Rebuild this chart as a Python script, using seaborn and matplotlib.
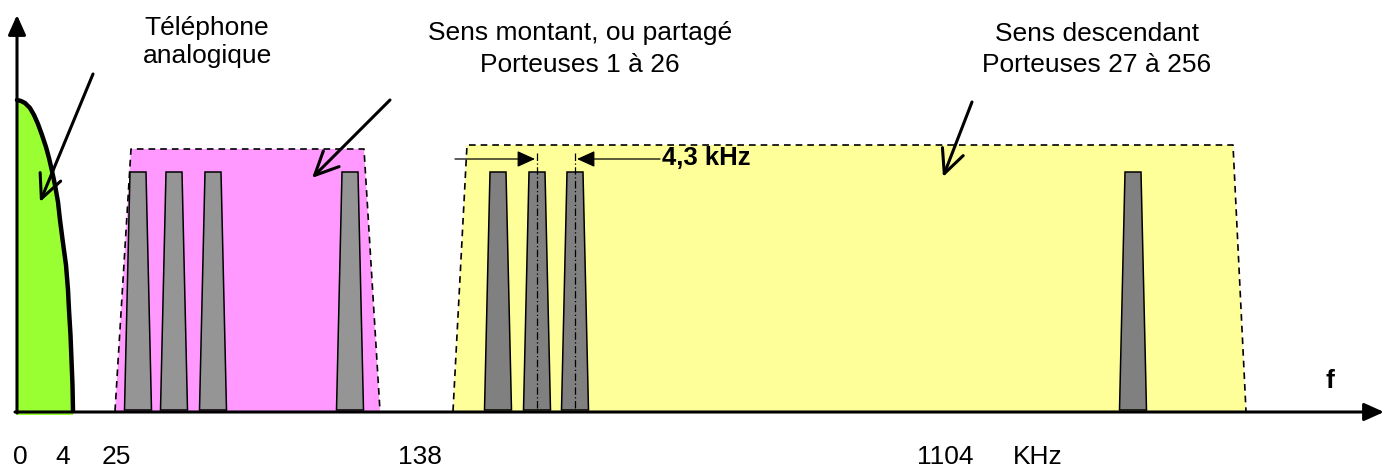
import numpy as np
import pandas as pd
import matplotlib
matplotlib.use("Agg")
import matplotlib.pyplot as plt
import seaborn as sns
from matplotlib.patches import Polygon

# drawing units are pixels of the 1384x470 picture, y grows downwards
freq_labels = ["0", "4", "25", "138", "1104", "KHz"]
freq_label_x = [20, 63, 116, 420, 945, 1038]

# analog phone spectrum
phone_x = [17, 21, 25, 30, 34, 38, 42, 46, 49, 52, 55, 58, 60, 63, 66, 68, 69, 70.5, 71.5, 72.5, 73]
phone_y = [100, 101, 103, 108, 115, 124, 135, 147, 158, 171, 185, 202, 220, 243, 265, 290, 310, 335, 360, 385, 411]

# upstream / downstream bands (dashed envelopes)
up_band_x = [115, 131, 364, 380]
up_band_y = [411, 149, 149, 411]
down_band_x = [453, 467, 1233, 1246]
down_band_y = [411, 145, 145, 411]

# carriers
up_carriers = [138, 174, 213, 350]
down_carriers = [498, 537, 575, 1133]
carrier_top = 172
carrier_bottom = 410
half_top = 8
half_bottom = 13.5

sns.set_theme(style="white")
plt.rcParams["font.family"] = ["Liberation Sans", "DejaVu Sans"]
plt.rcParams["text.color"] = "black"

fig = plt.figure(figsize=(13.84, 4.70), dpi=100)
ax = fig.add_axes([0, 0, 1, 1])
ax.set_xlim(0, 1384)
ax.set_ylim(470, 0)
ax.axis("off")

# band fills
ax.add_patch(Polygon(list(zip(up_band_x, up_band_y)), closed=True,
                     facecolor="#FF99FF", edgecolor="none", zorder=1))
ax.add_patch(Polygon(list(zip(down_band_x, down_band_y)), closed=True,
                     facecolor="#FFFF99", edgecolor="none", zorder=1))
for bx, by in [(up_band_x, up_band_y), (down_band_x, down_band_y)]:
    sns.lineplot(x=bx, y=by, sort=False, color="black", lw=1.2,
                 linestyle=(0, (4, 3)), ax=ax, zorder=2)

# phone band
ax.fill_betweenx(phone_y, 17, phone_x, color="#99FF33", lw=0, zorder=1)
ax.fill_between([17, 73], [411, 411], [415, 415], color="#99FF33", lw=0, zorder=1)
sns.lineplot(x=phone_x, y=phone_y, sort=False, color="black", lw=3.2, ax=ax, zorder=4)

# carriers
for group, col in [(up_carriers, "#959595"), (down_carriers, "#808080")]:
    for c in group:
        pts = [(c - half_bottom, carrier_bottom), (c - half_top, carrier_top),
               (c + half_top, carrier_top), (c + half_bottom, carrier_bottom)]
        ax.add_patch(Polygon(pts, closed=True, facecolor=col,
                             edgecolor="black", lw=1.1, zorder=3))

# carrier spacing marks
for c in down_carriers[1:3]:
    ax.plot([c, c], [153, 410], color="black", lw=0.9,
            linestyle=(0, (6, 2, 1, 2)), zorder=4)
spacing = dict(arrowstyle="-|>,head_length=0.55,head_width=0.25",
               color="black", lw=0.9, mutation_scale=20, shrinkA=0, shrinkB=0)
ax.annotate("", xy=(down_carriers[1] - 2, 159), xytext=(455, 159), arrowprops=spacing)
ax.annotate("", xy=(down_carriers[2] + 2, 159), xytext=(660, 159), arrowprops=spacing)
ax.text(662, 165, "4,3 kHz", fontsize=18.5, fontweight="bold", va="baseline", ha="left")

# axes with arrowheads
axis_arrow = dict(arrowstyle="-|>,head_length=0.6,head_width=0.27",
                  color="black", lw=2.2, mutation_scale=20, shrinkA=0, shrinkB=0)
ax.annotate("", xy=(1384, 412), xytext=(15, 412), arrowprops=axis_arrow, zorder=5)
ax.annotate("", xy=(17, 15), xytext=(17, 413), arrowprops=axis_arrow, zorder=5)

# pointer arrows
pointer = dict(arrowstyle="->,head_length=0.85,head_width=0.4",
               color="black", lw=2.2, mutation_scale=20, shrinkA=0, shrinkB=0)
ax.annotate("", xy=(40, 202), xytext=(93, 74), arrowprops=pointer, zorder=6)
ax.annotate("", xy=(312, 178), xytext=(390, 100), arrowprops=pointer, zorder=6)
ax.annotate("", xy=(943, 177), xytext=(972, 102), arrowprops=pointer, zorder=6)

# titles
fs = 19
ax.text(207, 35, "Téléphone", fontsize=fs, ha="center", va="baseline")
ax.text(207, 63, "analogique", fontsize=fs, ha="center", va="baseline")
ax.text(580, 40, "Sens montant, ou partagé", fontsize=fs, ha="center", va="baseline")
ax.text(580, 72, "Porteuses 1 à 26", fontsize=fs, ha="center", va="baseline")
ax.text(1097, 41, "Sens descendant", fontsize=fs, ha="center", va="baseline")
ax.text(1097, 72, "Porteuses 27 à 256", fontsize=fs, ha="center", va="baseline")
ax.text(1330, 388, "f", fontsize=fs, fontweight="bold", ha="center", va="baseline")

for lab, x in zip(freq_labels, freq_label_x):
    ax.text(x, 464, lab, fontsize=fs, ha="center", va="baseline")

fig.savefig("out.png", dpi=100)
